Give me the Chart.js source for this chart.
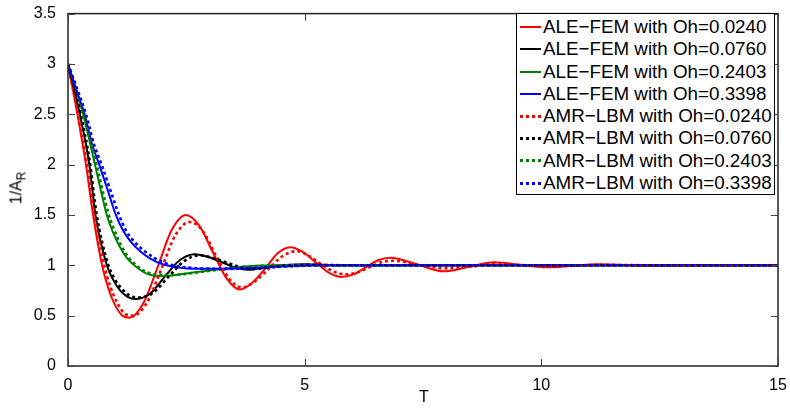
<!DOCTYPE html>
<html>
<head>
<meta charset="utf-8">
<script src="https://cdn.jsdelivr.net/npm/chart.js@4.4.1/dist/chart.umd.min.js"></script>
<style>
  body { margin: 0; background: #fff; }
  #wrap { position: relative; width: 790px; height: 411px; font-family: "Liberation Sans", Arial, sans-serif; }
  #legend { position: absolute; left: 516px; top: 13px; width: 259px; height: 182px; border: 1px solid #000; background: #fff; padding-top: 2px; box-sizing: border-box; }
  .row { height: 22.3px; line-height: 22.3px; font-size: 18.8px; color: #000; white-space: nowrap; }
  .sample { display: inline-block; width: 21px; height: 2px; margin: 0 2px 0 3px; vertical-align: middle; position: relative; top: -1px; }
  #ytitle { position: absolute; left: 18px; top: 188px; transform: translate(-50%, -50%) rotate(-90deg); font-size: 16px; white-space: nowrap; }
  #ytitle sub { font-size: 12px; }
  #xtitle { position: absolute; left: 424px; top: 397px; transform: translate(-50%, -50%); font-size: 16px; }
</style>
</head>
<body>
<div id="wrap">
  <canvas id="chart" width="790" height="411"></canvas>
  <div id="ytitle">1/A<sub>R</sub></div>
  <div id="xtitle">T</div>
  <div id="legend"></div>
</div>
<script>
// ALE-FEM, Oh=0.0240
const tFem1 = [0, 0.2, 0.38, 0.53, 0.72, 0.86, 1.0, 1.15, 1.3, 1.6, 1.9, 2.19, 2.49, 2.78, 3.06, 3.35, 3.63, 3.9, 4.17, 4.43, 4.7, 4.97, 5.23, 5.5, 5.76, 6.03, 6.29, 6.55, 6.81, 7.37, 7.93, 8.47, 9.0, 9.55, 10.1, 10.65, 11.2, 12.3, 13.2, 15];
const vFem1 = [3.0, 2.5, 2.0, 1.5, 1.0, 0.76, 0.6, 0.5, 0.48, 0.63, 0.99, 1.35, 1.5, 1.39, 1.13, 0.87, 0.76, 0.83, 0.97, 1.12, 1.18, 1.13, 1.03, 0.93, 0.885, 0.91, 0.98, 1.05, 1.075, 1.01, 0.94, 0.985, 1.03, 1.005, 0.98, 0.995, 1.01, 0.995, 1.0, 1.0];
// ALE-FEM, Oh=0.0760
const tFem2 = [0, 0.25, 0.45, 0.58, 0.82, 0.95, 1.1, 1.25, 1.42, 1.74, 2.05, 2.36, 2.68, 2.98, 3.3, 3.55, 3.8, 4.3, 5.0, 5.8, 15];
const vFem2 = [3.0, 2.5, 2.0, 1.5, 1.0, 0.86, 0.75, 0.69, 0.665, 0.72, 0.89, 1.05, 1.11, 1.08, 1.02, 0.975, 0.955, 0.99, 1.01, 1.0, 1.0];
// ALE-FEM, Oh=0.2403
const tFem3 = [0, 0.15, 0.32, 0.57, 0.82, 0.94, 1.1, 1.25, 1.45, 1.65, 1.87, 2.2, 2.6, 3.2, 3.8, 4.5, 15];
const vFem3 = [3.0, 2.78, 2.5, 2.0, 1.5, 1.34, 1.18, 1.07, 0.98, 0.92, 0.895, 0.9, 0.925, 0.96, 0.99, 1.0, 1.0];
// ALE-FEM, Oh=0.3398
const tFem4 = [0, 0.17, 0.35, 0.51, 0.66, 0.85, 1.01, 1.17, 1.35, 1.55, 1.73, 2.0, 2.3, 2.7, 3.3, 4.0, 4.6, 5.3, 15];
const vFem4 = [3.0, 2.75, 2.5, 2.2, 2.0, 1.73, 1.5, 1.34, 1.22, 1.13, 1.07, 1.01, 0.98, 0.965, 0.965, 0.975, 0.99, 1.0, 1.0];

// AMR-LBM, Oh=0.0240
const tLbm1 = [0, 0.2, 0.38, 0.55, 0.74, 0.9, 1.05, 1.2, 1.37, 1.67, 1.97, 2.27, 2.57, 2.85, 3.12, 3.4, 3.67, 3.95, 4.23, 4.53, 4.83, 5.1, 5.35, 5.6, 5.86, 6.12, 6.37, 6.62, 6.88, 7.45, 8.0, 8.55, 9.1, 9.65, 10.2, 11.3, 12.4, 15];
const vLbm1 = [3.0, 2.52, 2.05, 1.55, 1.05, 0.78, 0.62, 0.52, 0.5, 0.63, 0.96, 1.3, 1.43, 1.34, 1.1, 0.87, 0.78, 0.84, 0.96, 1.09, 1.14, 1.09, 1.01, 0.94, 0.91, 0.93, 0.98, 1.03, 1.045, 1.0, 0.97, 0.99, 1.015, 1.0, 0.99, 1.005, 1.0, 1.0];
// AMR-LBM, Oh=0.0760
const tLbm2 = [0, 0.26, 0.46, 0.6, 0.84, 0.98, 1.13, 1.3, 1.48, 1.8, 2.13, 2.45, 2.78, 3.08, 3.4, 3.65, 3.9, 4.4, 5.1, 6.0, 15];
const vLbm2 = [3.0, 2.52, 2.03, 1.52, 1.02, 0.87, 0.77, 0.7, 0.68, 0.73, 0.89, 1.04, 1.1, 1.07, 1.02, 0.98, 0.965, 0.99, 1.005, 1.0, 1.0];
// AMR-LBM, Oh=0.2403
const tLbm3 = [0, 0.15, 0.33, 0.59, 0.85, 0.97, 1.13, 1.28, 1.48, 1.68, 1.92, 2.25, 2.65, 3.25, 3.9, 4.6, 15];
const vLbm3 = [3.0, 2.8, 2.52, 2.03, 1.52, 1.36, 1.19, 1.08, 0.985, 0.93, 0.905, 0.905, 0.925, 0.96, 0.99, 1.0, 1.0];
// AMR-LBM, Oh=0.3398
const tLbm4 = [0, 0.18, 0.38, 0.55, 0.71, 0.9, 1.07, 1.22, 1.41, 1.62, 1.82, 2.1, 2.4, 2.8, 3.4, 4.1, 4.7, 5.4, 15];
const vLbm4 = [3.0, 2.77, 2.5, 2.2, 2.0, 1.74, 1.51, 1.35, 1.23, 1.14, 1.075, 1.015, 0.985, 0.97, 0.965, 0.975, 0.99, 1.0, 1.0];

const seriesNames = [
  'ALE\u2212FEM with Oh=0.0240', 'ALE\u2212FEM with Oh=0.0760', 'ALE\u2212FEM with Oh=0.2403', 'ALE\u2212FEM with Oh=0.3398',
  'AMR\u2212LBM with Oh=0.0240', 'AMR\u2212LBM with Oh=0.0760', 'AMR\u2212LBM with Oh=0.2403', 'AMR\u2212LBM with Oh=0.3398'
];
const xTicks = [0, 5, 10, 15];
const yTicks = [0, 0.5, 1, 1.5, 2, 2.5, 3, 3.5];

const colors = ['#ff0000', '#000000', '#008000', '#0000ff'];
const allT = [tFem1, tFem2, tFem3, tFem4, tLbm1, tLbm2, tLbm3, tLbm4];
const allV = [vFem1, vFem2, vFem3, vFem4, vLbm1, vLbm2, vLbm3, vLbm4];

const datasets = allT.map((ts, i) => {
  const dotted = i >= 4;
  return {
    label: seriesNames[i],
    data: ts.map((t, j) => ({ x: t, y: allV[i][j] })),
    borderColor: colors[i % 4],
    borderWidth: dotted ? 2.6 : 2,
    borderDash: dotted ? [3, 3] : [],
    showLine: true,
    pointRadius: 0,
    cubicInterpolationMode: 'monotone',
    order: 8 - i
  };
});

// box with inward ticks, like the original
const framePlugin = {
  id: 'frame',
  afterDatasetsDraw(chart) {
    const { ctx, chartArea: a, scales } = chart;
    ctx.save();
    ctx.strokeStyle = '#222';
    ctx.lineWidth = 1.5;
    ctx.strokeRect(a.left, a.top, a.right - a.left, a.bottom - a.top);
    ctx.lineWidth = 1;
    ctx.strokeStyle = '#444';
    ctx.beginPath();
    xTicks.forEach(v => {
      const px = Math.round(scales.x.getPixelForValue(v)) + 0.5;
      ctx.moveTo(px, a.bottom); ctx.lineTo(px, a.bottom - 7);
      ctx.moveTo(px, a.top); ctx.lineTo(px, a.top + 7);
    });
    yTicks.forEach(v => {
      const py = Math.round(scales.y.getPixelForValue(v)) + 0.5;
      ctx.moveTo(a.left, py); ctx.lineTo(a.left + 7, py);
      ctx.moveTo(a.right, py); ctx.lineTo(a.right - 7, py);
    });
    ctx.stroke();
    ctx.restore();
  }
};

new Chart(document.getElementById('chart'), {
  type: 'scatter',
  data: { datasets },
  options: {
    responsive: false,
    animation: false,
    devicePixelRatio: 1,
    layout: { padding: { top: 11, right: 12, left: 0, bottom: 0 } },
    plugins: { legend: { display: false }, tooltip: { enabled: false } },
    scales: {
      x: {
        type: 'linear', min: 0, max: 15,
        grid: { display: false }, border: { display: false },
        ticks: { stepSize: 5, color: '#000', padding: 2, font: { family: '"Liberation Sans", Arial', size: 16 },
          callback: v => String(v) },
        afterFit(s) { s.height = 45; }
      },
      y: {
        min: 0, max: 3.5,
        grid: { display: false }, border: { display: false },
        ticks: { stepSize: 0.5, color: '#000', padding: 4, font: { family: '"Liberation Sans", Arial', size: 16 },
          callback: v => String(v) },
        afterFit(s) { s.width = 68; }
      }
    }
  },
  plugins: [framePlugin]
});

// legend inside the plot, top right
const legend = document.getElementById('legend');
seriesNames.forEach((name, i) => {
  const row = document.createElement('div');
  row.className = 'row';
  const s = document.createElement('span');
  s.className = 'sample';
  const c = colors[i % 4];
  s.style.background = i >= 4
    ? `repeating-linear-gradient(to right, ${c} 0 3px, transparent 3px 6px)`
    : c;
  if (i >= 4) s.style.height = '3px';
  row.appendChild(s);
  row.appendChild(document.createTextNode(name));
  legend.appendChild(row);
});
</script>
</body>
</html>
